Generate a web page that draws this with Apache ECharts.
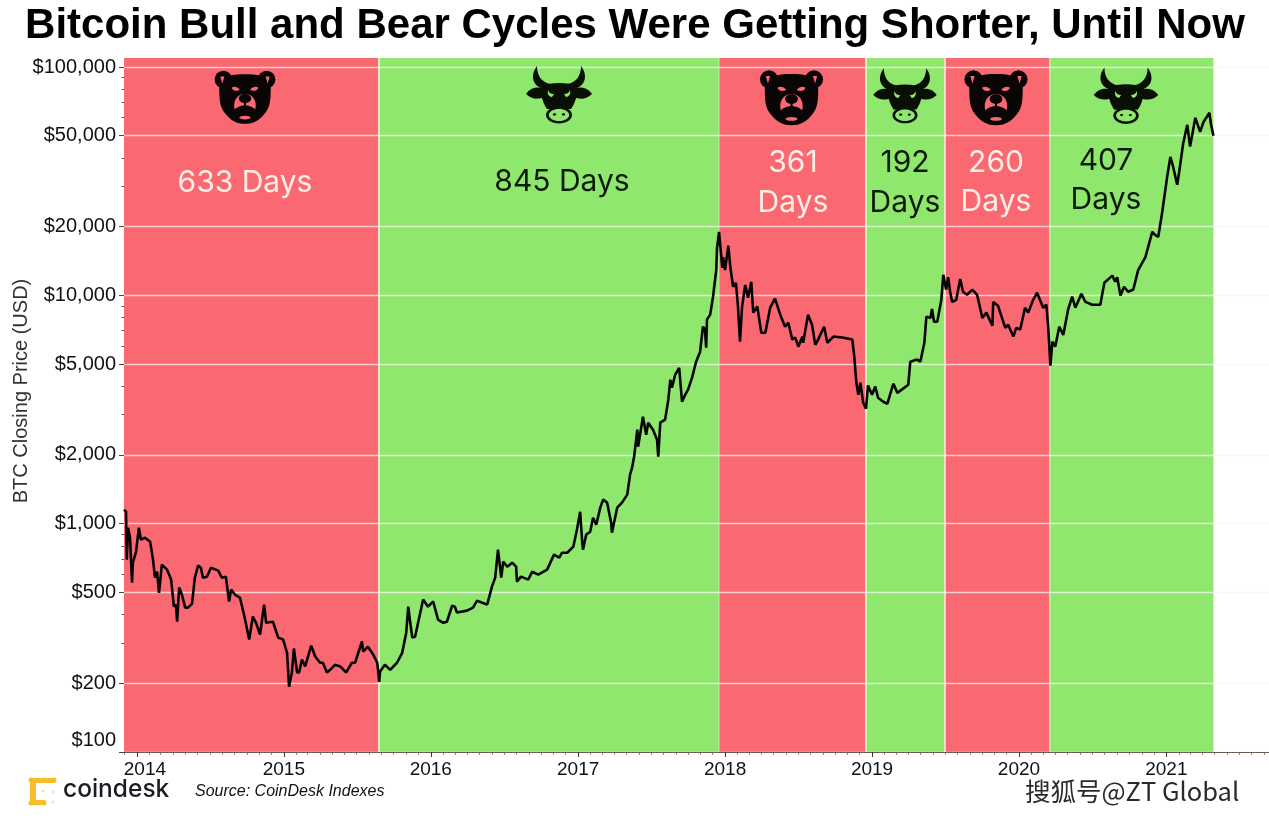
<!DOCTYPE html>
<html>
<head>
<meta charset="utf-8">
<title>Bitcoin Bull and Bear Cycles</title>
<script src="https://cdn.jsdelivr.net/npm/echarts@6/dist/echarts.min.js"></script>
<style>
html, body { margin: 0; padding: 0; background: #fff; }
#main { width: 1269px; height: 818px; }
</style>
</head>
<body>
<div id="main"></div>
<script>
// days after the first close (2013-11-30) and the closing price
var firstDay = '2013-11-30';
var lastAxisDay = '2021-09-13';
var dayOffsets = [
  0,5,7,10,15,20,22,30,37,42,52,65,72,77,82,87,94,107,117,124,129,132,137,144,152,159,169,176,184,191,
  196,206,216,234,243,253,261,266,276,288,298,311,320,328,338,348,353,370,383,395,405,410,417,422,430,435,442,450,465,475,
  487,494,504,512,524,537,552,566,574,591,594,606,619,629,634,636,648,661,678,691,701,706,711,716,723,743,755,768,780,793,
  802,815,822,827,852,867,877,902,914,922,929,937,942,952,964,974,976,986,1004,1014,1029,1051,1068,1081,1088,1101,1116,1125,1133,1138,
  1140,1148,1158,1165,1173,1183,1190,1200,1210,1212,1225,1237,1250,1257,1262,1267,1275,1277,1289,1297,1302,1314,1324,1327,1332,1344,1352,1357,1361,1369,
  1379,1386,1394,1401,1411,1421,1431,1438,1443,1446,1448,1456,1463,1471,1473,1478,1486,1488,1493,1501,1506,1513,1520,1525,1530,1535,1543,1550,1558,1563,
  1573,1583,1593,1605,1617,1630,1642,1650,1660,1667,1675,1685,1687,1699,1709,1717,1724,1739,1747,1762,1784,1809,1814,1819,1824,1829,1836,1843,1848,1858,
  1866,1873,1886,1896,1911,1921,1948,1953,1970,1978,1988,1993,2003,2007,2012,2020,2030,2035,2042,2047,2052,2057,2067,2077,2084,2094,2107,2119,2132,2142,
  2157,2159,2171,2189,2196,2209,2216,2226,2238,2246,2258,2268,2283,2291,2296,2301,2306,2313,2323,2333,2345,2355,2363,2378,2388,2405,2425,2435,2455,2462,
  2467,2475,2484,2494,2507,2519,2537,2554,2561,2569,2579,2591,2599,2606,2616,2621,2631,2641,2648,2661,2673,2681,2696,2700,2706
];
var closePrices = [
  1152,1128,696,960,868,552,675,754,960,851,868,834,696,580,616,498,662,629,569,433,442,372,525,488,429,429,446,580,655,641,
  580,586,641,623,580,586,456,514,488,474,400,311,392,368,327,442,368,372,317,311,272,193,223,284,223,223,254,237,292,262,
  246,246,223,229,241,237,223,246,246,305,275,289,267,246,203,225,241,229,246,272,333,433,368,317,320,465,433,456,380,368,
  372,437,433,408,416,429,460,442,530,580,769,580,682,648,675,648,557,586,569,616,598,629,732,710,746,746,793,941,1128,834,
  769,895,922,1062,990,1175,1274,1236,1010,913,1175,1236,1340,1639,1759,1964,2580,2173,2940,2452,2769,2580,2332,1964,2769,2856,3490,4270,3937,4490,
  4813,3423,3670,3863,4360,5120,5665,7294,7080,5900,7830,8230,9840,12900,16100,18950,13200,14700,12900,16500,13300,10900,11350,8930,6260,8830,11100,9770,11460,8400,
  8930,6860,6860,8830,9680,8230,7290,7590,6400,6540,5960,6600,6200,8230,7440,6070,6400,7290,6200,6600,6540,6400,5380,4140,3670,4140,3390,3190,4030,3670,
  3990,3560,3420,3350,4100,3740,4060,5120,5230,5120,6200,8060,7960,8720,7660,7660,9540,12300,10600,12000,10370,9360,9540,11800,10370,10060,10600,10060,7960,8400,
  7360,9360,9000,7200,7440,6600,7200,7080,8830,8400,9540,10270,8830,9100,7080,4920,6270,5960,7290,6710,8650,9860,8830,10150,9360,9100,9100,11350,12200,11460,
  12000,9970,10900,10370,10600,12900,14700,18950,18400,18050,23300,33000,40400,36500,30500,34800,46500,55800,44800,59900,52000,57300,63000,56000,50000
];

// cycles: where each band ends on the date axis, and what kind it is
var cycleEnds = ['2015-08-24','2017-12-17','2018-12-16','2019-06-30','2020-03-17','2021-04-28'];
var cycleKinds = ['bear','bull','bear','bull','bear','bull'];

var yearTicks = ['2014','2015','2016','2017','2018','2019','2020','2021'];
var priceTicks = [100,200,500,1000,2000,5000,10000,20000,50000,100000];
var minorPriceTicks = [300,400,600,700,800,900,3000,4000,6000,7000,8000,9000,30000,40000,60000,70000,80000,90000];

var bearColor = '#fa6872';
var bullColor = '#90e76e';
var paleText = '#fdeee6';
var fontName = '"Liberation Sans", Arial, sans-serif';

function ts(s) { return new Date(s + 'T00:00:00Z').getTime(); }

var lineData = [];
for (var i = 0; i < dayOffsets.length; i++) {
  lineData.push([ts(firstDay) + dayOffsets[i] * 864e5, closePrices[i]]);
}

var bandData = [];
var separators = [];
var separatorOpacity = [0.8, 0.35, 0.9, 0.9, 0.35];
for (var c = 0; c < cycleEnds.length; c++) {
  bandData.push([
    { xAxis: ts(c == 0 ? firstDay : cycleEnds[c - 1]), itemStyle: { color: cycleKinds[c] == 'bear' ? bearColor : bullColor } },
    { xAxis: ts(cycleEnds[c]) }
  ]);
  if (c < cycleEnds.length - 1) {
    separators.push({ xAxis: ts(cycleEnds[c]), lineStyle: { opacity: separatorOpacity[c] } });
  }
}

// month ticks along the bottom
var monthTicks = [];
for (var y = 2013; y <= 2021; y++) {
  for (var m = 0; m < 12; m++) {
    var t = Date.UTC(y, m, 1);
    if (t >= ts(firstDay) && t <= ts(lastAxisDay)) monthTicks.push(t);
  }
}
var yearTickValues = yearTicks.map(function (s) { return Date.UTC(+s, 0, 1); });

// ---- hand drawn icons, origin at the icon centre ----
// the graphic component has no plain path type, so each outline gets registered as a shape
var shapeCount = 0;
function shape(d, fill) {
  var name = 'iconPath' + (shapeCount++);
  echarts.graphic.registerShape(name, echarts.graphic.extendPath(d));
  return { type: name, style: { fill: fill }, z: 11 };
}
function circle(cx, cy, r, fill) {
  return { type: 'circle', shape: { cx: cx, cy: cy, r: r }, style: { fill: fill }, z: 11 };
}
function ellipse(cx, cy, rx, ry, fill) {
  return { type: 'ellipse', shape: { cx: cx, cy: cy, rx: rx, ry: ry }, style: { fill: fill }, z: 11 };
}

function bearIcon(x, y, s) {
  var k = bearColor;
  return {
    type: 'group', x: x, y: y, scaleX: s, scaleY: s,
    children: [
      circle(-21, -17, 8.5, '#0a0606'),
      circle(21, -17, 8.5, '#0a0606'),
      shape('M-25,-8 C-25,-20 -14,-22 0,-22 C14,-22 25,-20 25,-8 C25,4 24,10 20,15 C14,23 8,26 0,26 C-8,26 -14,23 -20,15 C-24,10 -25,4 -25,-8 Z', '#0a0606'),
      shape('M-24,-20 L-20,-20 L-22,-13 Z', k),
      shape('M24,-20 L20,-20 L22,-13 Z', k),
      shape('M-13,-9 C-11,-11 -7,-10 -5,-7 C-8,-5 -12,-6 -13,-9 Z', k),
      shape('M13,-9 C11,-11 7,-10 5,-7 C8,-5 12,-6 13,-9 Z', k),
      shape('M-10,12 C-12,4 -8,-3 0,-3 C8,-3 12,4 10,12 C7,9 3,8 0,8 C-3,8 -7,9 -10,12 Z', k),
      ellipse(0, 1.5, 6, 4.5, '#0a0606'),
      shape('M-1,5 L1,5 L1,10 L-1,10 Z', '#0a0606'),
      ellipse(0, 20, 5.5, 1.8, k)
    ]
  };
}

function bullIcon(x, y, s) {
  var k = bullColor;
  return {
    type: 'group', x: x, y: y, scaleX: s, scaleY: s,
    children: [
      shape('M-22,-29 C-29,-20 -27,-9 -15,-6 L-9,-11 C-18,-13 -22,-20 -22,-29 Z', '#0a0f06'),
      shape('M22,-29 C29,-20 27,-9 15,-6 L9,-11 C18,-13 22,-20 22,-29 Z', '#0a0f06'),
      shape('M-33,-1 C-28,-8 -22,-8 -15,-7 L-15,2 C-21,5 -28,4 -33,-1 Z', '#0a0f06'),
      shape('M33,-1 C28,-8 22,-8 15,-7 L15,2 C21,5 28,4 33,-1 Z', '#0a0f06'),
      shape('M-18,-9 C-9,-13 9,-13 18,-9 C19,0 16,8 12,14 L-12,14 C-16,8 -19,0 -18,-9 Z', '#0a0f06'),
      ellipse(0, 20, 13, 8.5, '#0a0f06'),
      ellipse(0, 20, 10.2, 6, k),
      ellipse(-4.5, 19.5, 1.6, 1.2, '#0a0f06'),
      ellipse(4.5, 19.5, 1.6, 1.2, '#0a0f06'),
      shape('M-11,-5 C-10,-2 -8,-1 -5,-1 L-7,2 C-10,2 -12,-1 -11,-5 Z', k),
      shape('M11,-5 C10,-2 8,-1 5,-1 L7,2 C10,2 12,-1 11,-5 Z', k)
    ]
  };
}

function bandText(txt, x, y, fill) {
  return {
    type: 'text', x: x, y: y, z: 11,
    style: { text: txt, fill: fill, font: '400 30px Inter, "Liberation Sans", sans-serif', textAlign: 'center', textVerticalAlign: 'middle' }
  };
}

function logoDot(x, y, r, op) {
  return { type: 'circle', z: 11, shape: { cx: x, cy: y, r: r }, style: { fill: '#f7bd2c', opacity: op } };
}
function logoBar(x, y, w, h) {
  return { type: 'rect', z: 11, shape: { x: x, y: y, width: w, height: h, r: 2 }, style: { fill: '#f7bd2c' } };
}

var graphics = [
  {
    type: 'text', x: 635, y: 26, z: 11,
    style: { text: 'Bitcoin Bull and Bear Cycles Were Getting Shorter, Until Now', fill: '#000', font: 'bold 42px ' + fontName, textAlign: 'center', textVerticalAlign: 'middle' }
  },
  bearIcon(245, 97, 1.03),
  bullIcon(559, 95, 1),
  bearIcon(791.5, 97.5, 1.07),
  bullIcon(905, 96, 0.96),
  bearIcon(996, 97.5, 1.07),
  bullIcon(1126, 96, 0.98),
  bandText('633 Days', 245, 183, paleText),
  bandText('845 Days', 562, 182, '#0c1a08'),
  bandText('361', 793, 163, paleText),
  bandText('Days', 793, 203, paleText),
  bandText('192', 905, 163, '#0c1a08'),
  bandText('Days', 905, 203, '#0c1a08'),
  bandText('260', 996, 163, paleText),
  bandText('Days', 996, 202, paleText),
  bandText('407', 1106, 161, '#0c1a08'),
  bandText('Days', 1106, 200, '#0c1a08'),
  // coindesk mark
  logoBar(30, 778, 26, 5),
  logoBar(30, 778, 6, 27),
  logoBar(30, 800, 16, 5),
  logoDot(31, 780, 2.5, 1), logoDot(54, 780, 2.5, 1), logoDot(45, 780, 2.5, 1),
  logoDot(31, 803, 2.5, 1), logoDot(44, 803, 2.5, 1),
  logoDot(43, 791, 1.3, 0.5), logoDot(53, 792, 1.3, 0.5), logoDot(53, 802, 1.3, 0.5),
  {
    type: 'text', x: 63, y: 790, z: 11,
    style: { text: 'coindesk', fill: '#1a1c22', font: '500 24.5px Inter, "Liberation Sans", sans-serif', textAlign: 'left', textVerticalAlign: 'middle' }
  },
  {
    type: 'text', x: 195, y: 792, z: 11,
    style: { text: 'Source: CoinDesk Indexes', fill: '#111', font: 'italic 16px ' + fontName, textAlign: 'left', textVerticalAlign: 'middle' }
  },
  {
    type: 'text', x: 1025, y: 791, z: 11,
    style: { text: '搜狐号@ZT Global', fill: '#2a2a2a', stroke: '#fff', lineWidth: 2, font: '25.5px "Noto Sans CJK SC", sans-serif', textAlign: 'left', textVerticalAlign: 'middle' }
  }
];

var chartDom = document.getElementById('main');
var myChart = echarts.init(chartDom);

var gridLine = { show: true, lineStyle: { color: 'rgba(244,244,240,0.75)', width: 1.3 } };
var axisInk = { show: true, onZero: false, lineStyle: { color: '#6b5a50', width: 1.2 } };

var option = {
  animation: false,
  backgroundColor: '#fff',
  textStyle: { fontFamily: fontName },
  grid: { left: 124, right: 0, top: 58, bottom: 66, containLabel: false, outerBoundsMode: 'none' },
  xAxis: [
    {
      type: 'value',
      min: ts(firstDay),
      max: ts(lastAxisDay),
      z: 1,
      axisLine: axisInk,
      splitLine: { show: false },
      axisTick: { show: true, length: 5, customValues: yearTickValues, lineStyle: { color: '#333' } },
      axisLabel: {
        show: true,
        customValues: yearTickValues,
        margin: 8,
        color: '#111',
        fontSize: 19,
        hideOverlap: false,
        formatter: function (v) {
          var yr = new Date(v).getUTCFullYear();
          return yr == 2014 ? '{pad|' + yr + '}' : String(yr);
        },
        rich: { pad: { padding: [0, 0, 0, 16], fontSize: 19, color: '#111' } }
      }
    },
    {
      type: 'value',
      position: 'bottom',
      min: ts(firstDay),
      max: ts(lastAxisDay),
      axisLine: { show: false },
      splitLine: { show: false },
      axisTick: { show: true, length: 2.5, customValues: monthTicks, lineStyle: { color: '#555' } },
      axisLabel: { show: false }
    }
  ],
  yAxis: [
    {
      type: 'log',
      logBase: 10,
      min: 100,
      max: 109500,
      z: 1,
      name: 'BTC Closing Price (USD)',
      nameLocation: 'middle',
      nameRotate: 90,
      nameGap: 93,
      nameMoveOverlap: false,
      nameTextStyle: { fontSize: 20, color: '#333', fontFamily: fontName, padding: [0, 0, 0, 28] },
      axisLine: { show: false },
      axisTick: { show: true, length: 5, customValues: priceTicks, lineStyle: { color: '#444' } },
      splitLine: gridLine,
      minorSplitLine: { show: false },
      axisLabel: {
        show: true,
        customValues: priceTicks,
        margin: 8,
        color: '#111',
        fontSize: 20,
        formatter: function (v) {
          var s = '$' + Math.round(v).toLocaleString('en-US');
          return Math.round(v) == 100 ? '{up|' + s + '}' : s;
        },
        rich: { up: { padding: [0, 0, 24, 0], fontSize: 20, color: '#111' } }
      }
    },
    {
      type: 'log',
      logBase: 10,
      min: 100,
      max: 109500,
      position: 'left',
      axisLine: { show: false },
      axisTick: { show: true, length: 2.5, customValues: minorPriceTicks, lineStyle: { color: '#555' } },
      splitLine: { show: false },
      axisLabel: { show: false }
    }
  ],
  series: [
    {
      name: 'BTC',
      type: 'line',
      xAxisIndex: 0,
      yAxisIndex: 0,
      z: 2,
      data: lineData,
      showSymbol: false,
      smooth: false,
      lineStyle: { color: '#050505', width: 2.6 },
      markArea: { silent: true, z: 0, data: bandData },
      markLine: {
        silent: true,
        z: 1,
        symbol: 'none',
        label: { show: false },
        lineStyle: { color: 'rgba(250,248,230,1)', width: 1.5, type: 'solid' },
        data: separators
      }
    }
  ],
  graphic: { z: 10, elements: graphics }
};

myChart.setOption(option);
</script>
</body>
</html>
